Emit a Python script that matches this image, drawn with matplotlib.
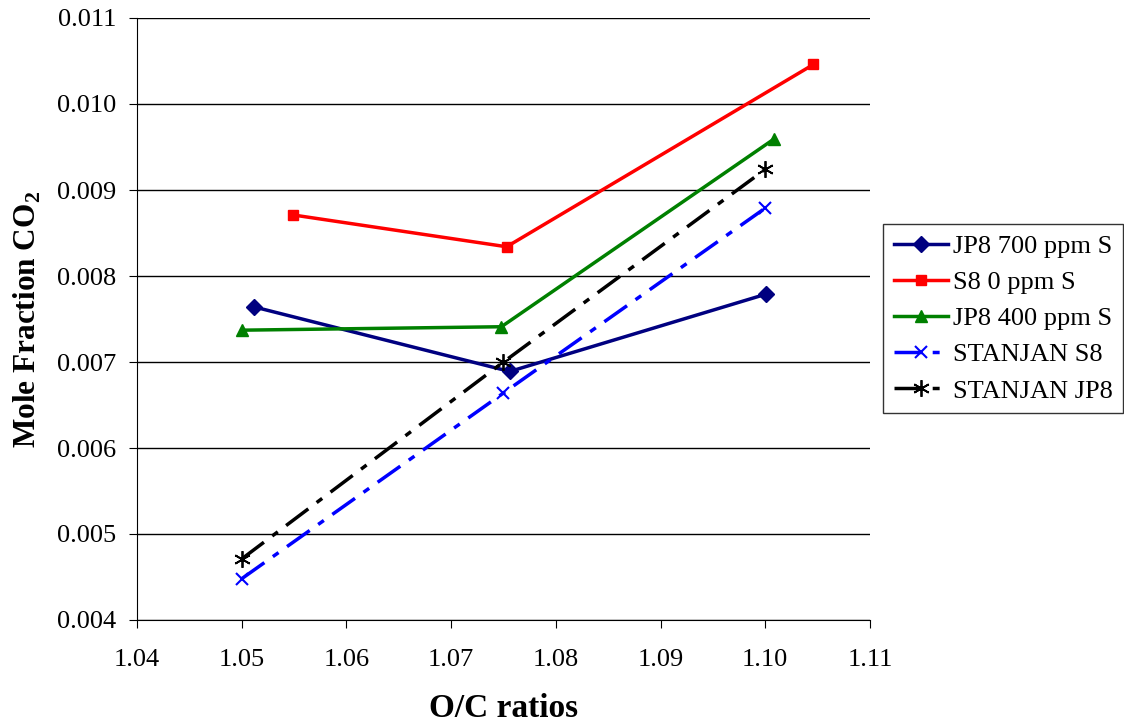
import matplotlib
matplotlib.use('Agg')
import matplotlib.pyplot as plt

# values
jp8_700_x = [1.0512, 1.0756, 1.1001]
jp8_700_y = [0.00764, 0.00689, 0.00779]
s8_0_x = [1.0549, 1.0753, 1.1046]
s8_0_y = [0.00871, 0.00834, 0.01046]
jp8_400_x = [1.0500, 1.0748, 1.1008]
jp8_400_y = [0.00737, 0.00741, 0.00959]
stanjan_s8_x = [1.05, 1.075, 1.10]
stanjan_s8_y = [0.00448, 0.00664, 0.00879]
stanjan_jp8_x = [1.05, 1.075, 1.10]
stanjan_jp8_y = [0.00471, 0.00700, 0.00924]

xticks = [1.04, 1.05, 1.06, 1.07, 1.08, 1.09, 1.10, 1.11]
yticks = [0.004, 0.005, 0.006, 0.007, 0.008, 0.009, 0.010, 0.011]

plt.rcParams['font.family'] = ['Liberation Serif', 'DejaVu Serif']
plt.rcParams['mathtext.fontset'] = 'custom'
plt.rcParams['mathtext.rm'] = 'Liberation Serif'
plt.rcParams['mathtext.bf'] = 'Liberation Serif:bold'

fig = plt.figure(figsize=(11.24, 7.27), dpi=100)
ax = fig.add_axes([137/1124, 1 - 620/727, (870-137)/1124, (620-18)/727])

ax.plot(jp8_700_x, jp8_700_y, color='#000080', lw=2.5, marker='D', ms=8, label='JP8 700 ppm S')
ax.plot(s8_0_x, s8_0_y, color='#ff0000', lw=2.5, marker='s', ms=7, label='S8 0 ppm S')
ax.plot(jp8_400_x, jp8_400_y, color='#008000', lw=2.5, marker='^', ms=8, label='JP8 400 ppm S')
ax.plot(stanjan_s8_x, stanjan_s8_y, color='#0000ff', lw=2.5, ls=(0, (8, 3, 2, 3)),
        marker='x', ms=8, mew=1.5, label='STANJAN S8')
ax.plot(stanjan_jp8_x, stanjan_jp8_y, color='#000000', lw=2.5, ls=(0, (8, 3, 2, 3)),
        marker=(6, 2, 0), ms=12, mew=1.3, label='STANJAN JP8')

ax.set_xlim(1.04, 1.11)
ax.set_ylim(0.004, 0.011)
ax.set_xticks(xticks)
ax.set_xticklabels(['%.2f' % v for v in xticks])
ax.set_yticks(yticks)
ax.set_yticklabels(['%.3f' % v for v in yticks])
ax.tick_params(labelsize=19, direction='out', length=6)
ax.tick_params(axis='x', pad=15)
ax.tick_params(axis='y', pad=9)
ax.yaxis.grid(True, color='black', lw=1)
ax.set_axisbelow(True)
for s in ['top', 'right']:
    ax.spines[s].set_visible(False)

ax.set_xlabel('O/C ratios', fontsize=24, fontweight='bold', labelpad=16)
ax.set_ylabel(r'Mole Fraction CO$_\mathbf{2}$', fontsize=22.5, fontweight='bold', labelpad=10)

leg = ax.legend(loc='upper left', bbox_to_anchor=(883/1124, 1 - 224/727), bbox_transform=fig.transFigure,
                fontsize=19, frameon=True, fancybox=False, edgecolor='black',
                handlelength=2.05, handletextpad=0.2, borderpad=0.4, labelspacing=0.48,
                borderaxespad=0)
leg.get_frame().set_linewidth(1)

fig.savefig('out.png', dpi=100)
